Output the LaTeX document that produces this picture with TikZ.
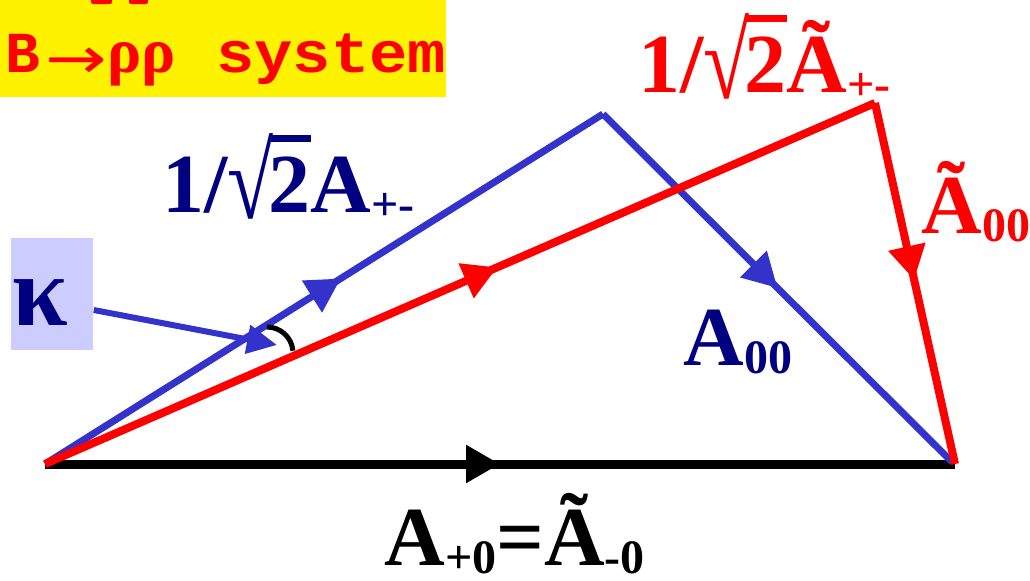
\documentclass[tikz,border=0pt]{standalone}
\usepackage{fontspec}
\setmainfont{Liberation Serif}
\newfontfamily\monof{Liberation Mono}
\newfontfamily\dejavu{DejaVu Sans}
\usetikzlibrary{arrows.meta,decorations.markings}
\definecolor{navy}{HTML}{000080}
\definecolor{lineblue}{HTML}{3333CC}
\definecolor{kbox}{HTML}{CCCCFF}
\newsavebox\sqbox
\newcommand\mysq[1]{\sbox\sqbox{√}\raisebox{-0.09em}{\resizebox{\wd\sqbox}{1.02em}{\raisebox{\dp\sqbox}{\usebox\sqbox}}}\kern-0.06em\vbox{\hrule height 0.08em\kern 0.17em\hbox{#1}}}
\newcommand\bigf{\fontsize{42}{46}\selectfont\bfseries}
\newcommand\subf[1]{\raisebox{-0.1em}{\fontsize{24}{26}\selectfont\bfseries #1}}
\tikzset{
  midarrow/.style={postaction={decorate},decoration={markings,
     mark=at position #1 with {\arrow{Triangle[length=17pt,width=18pt]}}}},
  lbl/.style={anchor=base west,inner sep=0pt},
}
\begin{document}
\begin{tikzpicture}[x=0.5pt,y=-0.5pt]
\useasboundingbox (0,0) rectangle (1030,580);
% yellow title box
\fill[yellow] (0,0) rectangle (446,97);
\fill[red,rounded corners=1pt] (91,-3) rectangle (112,4);
\fill[red,rounded corners=1pt] (129,-3) rectangle (148,4);
\node[lbl,text=red] (title) at (5,72) {\fontsize{29}{32}\selectfont
  \makebox[20pt][l]{\monof\bfseries B}%
  \makebox[31pt][c]{\raisebox{-3pt}{\scalebox{1.27}[1]{\dejavu →}}}%
  \makebox[32pt][l]{\fontsize{32}{34}\selectfont\bfseries ρρ}%
  \hspace{22.5pt}\scalebox{1.1}[1]{\monof\bfseries system}};
% points
\coordinate (O) at (45,464);
\coordinate (P) at (603,114);
\coordinate (Q) at (952,462);
\coordinate (R) at (875,103);
\coordinate (S) at (955,464);
% vectors
\draw[line width=4.5pt,black,midarrow=0.5] (O) -- (S);
\draw[line width=3.5pt,lineblue,midarrow=0.53] (O) -- (P);
\draw[line width=3.5pt,lineblue,midarrow=0.5] (P) -- (Q);
\draw[line width=4pt,red,midarrow=0.545] (O) -- (R);
\draw[line width=4pt,red,midarrow=0.49] (R) -- (S);
% angle
\draw[line width=2.5pt,black] (267,327) arc[start angle=-90,end angle=-5,radius=26];
% kappa
\node[fill=kbox,minimum width=41pt,minimum height=56pt,inner sep=0pt,anchor=north west] (kb) at (11,238) {};
\node[lbl,text=navy] (kap) at (12,325) {\fontsize{50}{52}\selectfont\bfseries κ};
\coordinate (kt) at (277,345);
\draw[line width=3pt,lineblue,-{Triangle[length=15pt,width=14pt]}] (kb.east |- 0,310) -- (kt);
% labels
\node[lbl,text=navy] (lA) at (162,212) {\bigf 1/\mysq{2}A\subf{+-}};
\node[lbl,text=red] (lAt) at (638,92) {\bigf 1/\mysq{2}Ã\subf{+-}};
\node[lbl,text=red] (lA0t) at (921,233) {\bigf Ã\subf{00}};
\node[lbl,text=navy] (lA0) at (683,365) {\bigf A\subf{00}};
\node[lbl,text=black] (lbot) at (384,565) {\bigf A\subf{+0}=Ã\subf{-0}};
\end{tikzpicture}
\end{document}
